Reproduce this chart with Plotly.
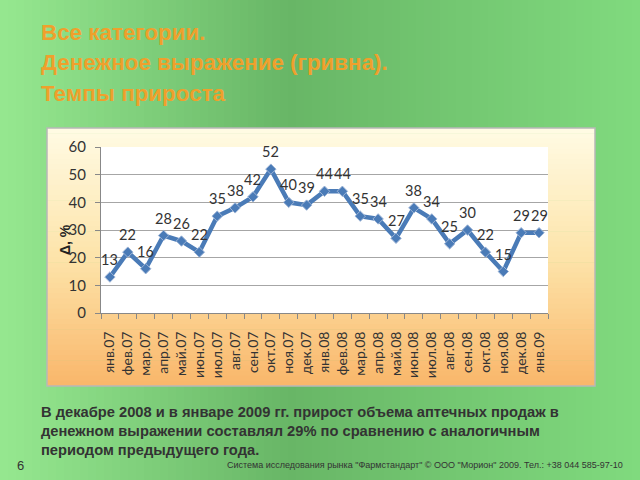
import plotly.graph_objects as go

months = ["янв.07", "фев.07", "мар.07", "апр.07", "май.07", "июн.07", "июл.07", "авг.07",
          "сен.07", "окт.07", "ноя.07", "дек.07", "янв.08", "фев.08", "мар.08", "апр.08",
          "май.08", "июн.08", "июл.08", "авг.08", "сен.08", "окт.08", "ноя.08", "дек.08", "янв.09"]
growth = [13, 22, 16, 28, 26, 22, 35, 38, 42, 52, 40, 39, 44, 44, 35, 34,
          27, 38, 34, 25, 30, 22, 15, 29, 29]
y_ticks = [0, 10, 20, 30, 40, 50, 60]

title_lines = ["Все категории.", "Денежное выражение (гривна).", "Темпы прироста"]
note_lines = ["В декабре 2008 и в январе 2009 гг. прирост объема аптечных продаж в",
              "денежном выражении составлял 29% по сравнению с аналогичным",
              "периодом предыдущего года."]
footer = 'Система исследования рынка "Фармстандарт" © ООО "Морион" 2009. Тел.: +38 044 585-97-10'
page_no = "6"

# plot area in pixels
PL, PR, PT, PB = 101, 548, 147, 313
W, H = PR - PL, PB - PT


def px(x):
    return (x - PL) / W


def py(y):
    return (PB - y) / H


def lerp(c1, c2, t):
    return tuple(int(round(a + (b - a) * t)) for a, b in zip(c1, c2))


def grad(stops, t):
    for (t0, c0), (t1, c1) in zip(stops[:-1], stops[1:]):
        if t <= t1:
            return lerp(c0, c1, (t - t0) / (t1 - t0) if t1 > t0 else 0)
    return stops[-1][1]


shapes = []
# slide background: horizontal green gradient
bg_stops = [(0.0, (150, 232, 144)), (0.45, (104, 182, 102)), (1.0, (128, 218, 126))]
N = 80
for i in range(N):
    x0 = 640 * i / N
    x1 = 640 * (i + 1) / N + 0.6
    c = grad(bg_stops, (i + 0.5) / N)
    shapes.append(dict(type="rect", xref="paper", yref="paper", x0=px(x0), x1=px(x1),
                       y0=py(480), y1=py(0), line=dict(width=0),
                       fillcolor="rgb(%d,%d,%d)" % c, layer="below"))

# chart box gradient (vertical: cream -> orange)
BX0, BX1, BY0, BY1 = 47, 595, 128, 386
box_stops = [(0.0, (255, 251, 228)), (0.5, (253, 228, 170)), (1.0, (249, 182, 106))]
M = 50
for i in range(M):
    y0 = BY0 + (BY1 - BY0) * i / M
    y1 = BY0 + (BY1 - BY0) * (i + 1) / M + 0.6
    c = grad(box_stops, (i + 0.5) / M)
    shapes.append(dict(type="rect", xref="paper", yref="paper", x0=px(BX0), x1=px(BX1),
                       y0=py(min(y1, BY1)), y1=py(y0), line=dict(width=0),
                       fillcolor="rgb(%d,%d,%d)" % c, layer="below"))
shapes.append(dict(type="rect", xref="paper", yref="paper", x0=px(BX0), x1=px(BX1),
                   y0=py(BY1), y1=py(BY0), line=dict(color="#B8B8B8", width=1.5),
                   fillcolor="rgba(0,0,0,0)", layer="below"))
# white plot area
shapes.append(dict(type="rect", xref="paper", yref="paper", x0=0, x1=1, y0=0, y1=1,
                   line=dict(width=0), fillcolor="white", layer="below"))

fig = go.Figure()
fig.add_trace(go.Scatter(
    x=months, y=growth, mode="lines+markers",
    line=dict(color="#4A7BB7", width=4.5),
    marker=dict(symbol="diamond", size=8, color="#4A7BB7",
                line=dict(color="#9DB4D6", width=1)),
    cliponaxis=False, showlegend=False))

annotations = []
# data labels above points
for m, v in zip(months, growth):
    annotations.append(dict(x=m, y=v, xref="x", yref="y", text=str(v), showarrow=False,
                            yanchor="bottom", yshift=7,
                            font=dict(family="Lato, Arial", size=14.5, color="#333333")))

title_y = [33, 63, 93]
for t, yy in zip(title_lines, title_y):
    annotations.append(dict(text="<b>%s</b>" % t, xref="paper", yref="paper",
                            x=px(39), y=py(yy), xanchor="left", yanchor="middle",
                            showarrow=False,
                            font=dict(family="Liberation Sans, Arial", size=22.4, color="#EFA02C")))
note_y = [412, 431, 450]
for t, yy in zip(note_lines, note_y):
    annotations.append(dict(text="<b>%s</b>" % t, xref="paper", yref="paper",
                            x=px(39), y=py(yy), xanchor="left", yanchor="middle",
                            showarrow=False,
                            font=dict(family="Liberation Sans, Arial", size=14.7, color="#333333")))
annotations.append(dict(text=footer, xref="paper", yref="paper", x=px(625), y=py(465),
                        xanchor="right", yanchor="middle", showarrow=False,
                        font=dict(family="Liberation Sans", size=9, color="#333333")))
annotations.append(dict(text=page_no, xref="paper", yref="paper", x=px(20), y=py(465),
                        xanchor="center", yanchor="middle", showarrow=False,
                        font=dict(family="Liberation Sans, Arial", size=13, color="#333333")))
annotations.append(dict(text="<b>Δ, %</b>", xref="paper", yref="paper", x=px(65), y=py(240),
                        xanchor="center", yanchor="middle", textangle=-90, showarrow=False,
                        font=dict(family="Liberation Sans, Arial", size=14, color="#222222")))

fig.update_layout(
    width=640, height=480,
    margin=dict(l=PL, r=640 - PR, t=PT, b=480 - PB, pad=0),
    paper_bgcolor="rgb(120,200,115)", plot_bgcolor="rgba(0,0,0,0)",
    shapes=shapes, annotations=annotations,
    xaxis=dict(type="category", tickangle=-90, ticks="outside", tickson="boundaries",
               ticklen=5, tickcolor="#888888", showgrid=False,
               showline=True, linecolor="#888888", linewidth=1,
               ticklabelstandoff=12,
               tickfont=dict(family="Lato, Arial", size=14, color="#333333"),
               range=[-0.5, len(months) - 0.5]),
    yaxis=dict(range=[0, 60], tickvals=y_ticks, ticks="outside", ticklen=5,
               tickcolor="#888888", showgrid=True, gridcolor="#A6A6A6", gridwidth=1,
               showline=True, linecolor="#888888", linewidth=1, zeroline=False,
               ticklabelstandoff=6,
               tickfont=dict(family="Lato, Arial", size=15, color="#333333")),
)

fig.write_html("out.html")
